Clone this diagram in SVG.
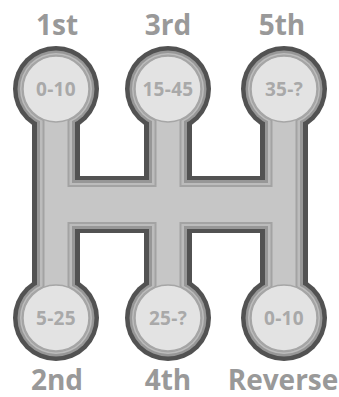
<svg xmlns="http://www.w3.org/2000/svg" width="339" height="397" viewBox="0 0 339 397">
<style>
.lbl{font-family:"Open Sans","Liberation Sans",sans-serif;font-weight:bold;font-size:28px;fill:#999999;text-anchor:middle}
.spd{font-family:"Open Sans","Liberation Sans",sans-serif;font-weight:bold;font-size:19px;fill:#a9a9a9;text-anchor:middle;letter-spacing:0.3px}
.disc{fill:#e3e3e3;stroke:#a6a6a6;stroke-width:1.5}
</style>
<rect width="339" height="397" fill="#ffffff"/>
<g id="connectors" fill="none" stroke-linecap="butt">
<g stroke="#525252">
<path d="M56 89V318M168 89V318M284 89V318" stroke-width="48"/>
<path d="M56 204.5H284" stroke-width="57"/>
<g fill="#525252" stroke="none">
<circle cx="56" cy="89" r="43"/><circle cx="168" cy="89" r="43"/><circle cx="284" cy="89" r="43"/>
<circle cx="56" cy="318" r="43"/><circle cx="168" cy="318" r="43"/><circle cx="284" cy="318" r="43"/>
</g>
</g>
<g stroke="#979797">
<path d="M56 89V318M168 89V318M284 89V318" stroke-width="38"/>
<path d="M56 204.5H284" stroke-width="49"/>
<g fill="#979797" stroke="none">
<circle cx="56" cy="89" r="38.5"/><circle cx="168" cy="89" r="38.5"/><circle cx="284" cy="89" r="38.5"/>
<circle cx="56" cy="318" r="38.5"/><circle cx="168" cy="318" r="38.5"/><circle cx="284" cy="318" r="38.5"/>
</g>
</g>
<g stroke="#bcbcbc">
<path d="M56 89V318M168 89V318M284 89V318" stroke-width="32"/>
<path d="M56 204.5H284" stroke-width="43"/>
<g fill="#bcbcbc" stroke="none">
<circle cx="56" cy="89" r="36"/><circle cx="168" cy="89" r="36"/><circle cx="284" cy="89" r="36"/>
<circle cx="56" cy="318" r="36"/><circle cx="168" cy="318" r="36"/><circle cx="284" cy="318" r="36"/>
</g>
</g>
<g stroke="#a3a3a3">
<path d="M56 89V318M168 89V318M284 89V318" stroke-width="27"/>
<path d="M56 204.5H284" stroke-width="39"/>
<g fill="#a3a3a3" stroke="none">
<circle cx="56" cy="89" r="34.5"/><circle cx="168" cy="89" r="34.5"/><circle cx="284" cy="89" r="34.5"/>
<circle cx="56" cy="318" r="34.5"/><circle cx="168" cy="318" r="34.5"/><circle cx="284" cy="318" r="34.5"/>
</g>
</g>
<g stroke="#c6c6c6">
<path d="M56 89V318M168 89V318M284 89V318" stroke-width="23"/>
<path d="M56 204.5H284" stroke-width="35"/>
</g>
</g>
<g id="gear-1st">
<circle class="disc" cx="56" cy="89" r="33"/>
<text class="spd" x="56" y="96">0-10</text>
<text class="lbl" x="57" y="35">1st</text>
</g>
<g id="gear-3rd">
<circle class="disc" cx="168" cy="89" r="33"/>
<text class="spd" x="168" y="96">15-45</text>
<text class="lbl" x="168" y="35">3rd</text>
</g>
<g id="gear-5th">
<circle class="disc" cx="284" cy="89" r="33"/>
<text class="spd" x="284" y="96">35-?</text>
<text class="lbl" x="282" y="35">5th</text>
</g>
<g id="gear-2nd">
<circle class="disc" cx="56" cy="318" r="33"/>
<text class="spd" x="56" y="325">5-25</text>
<text class="lbl" x="57" y="390">2nd</text>
</g>
<g id="gear-4th">
<circle class="disc" cx="168" cy="318" r="33"/>
<text class="spd" x="168" y="325">25-?</text>
<text class="lbl" x="168" y="390">4th</text>
</g>
<g id="gear-reverse">
<circle class="disc" cx="284" cy="318" r="33"/>
<text class="spd" x="284" y="325">0-10</text>
<text class="lbl" x="283" y="390">Reverse</text>
</g>
</svg>
